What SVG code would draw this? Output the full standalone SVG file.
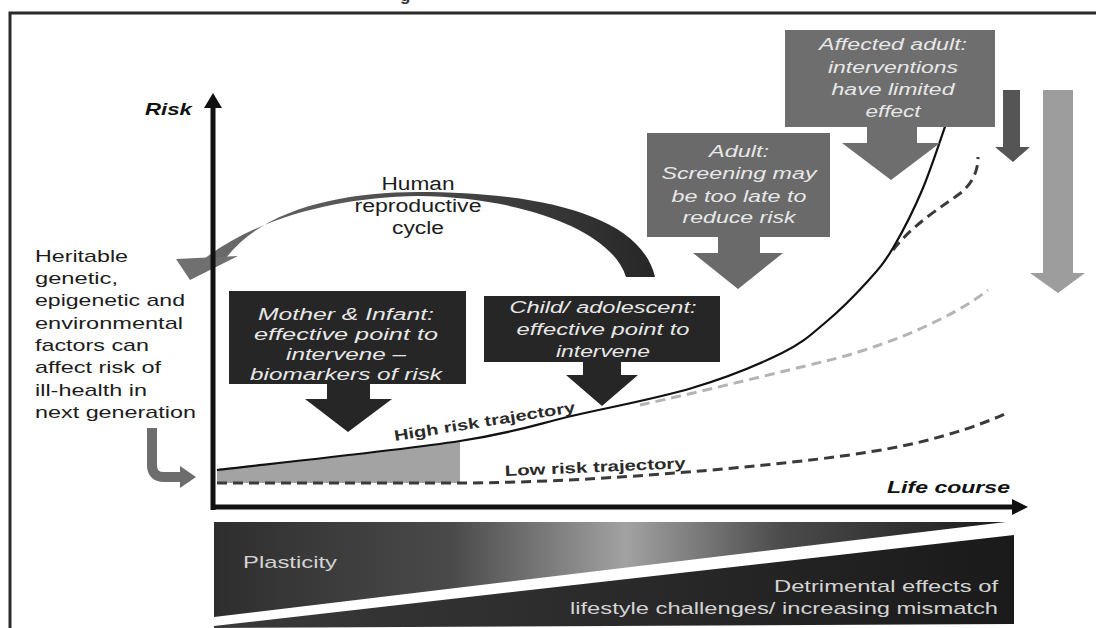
<svg xmlns="http://www.w3.org/2000/svg" width="1096" height="628" viewBox="0 0 1096 628">
<style>
  text { font-family: "Liberation Sans", Arial, sans-serif; }
  .lbl { font-size: 17px; fill: #1c1c1c; }
  .box { font-size: 16px; font-style: italic; fill: #e8e8e8; text-anchor: middle; }
  .ax { font-size: 17px; font-weight: bold; font-style: italic; fill: #111; }
  .traj { font-size: 15px; font-weight: bold; fill: #2a2a2a; }
  .band { font-size: 17px; fill: #d4d4d4; }
  .dash { fill: none; stroke-width: 3; stroke-dasharray: 10 6; }
</style>
<defs>
  <linearGradient id="cyc" x1="180" y1="0" x2="660" y2="0" gradientUnits="userSpaceOnUse">
    <stop offset="0" stop-color="#707070"/>
    <stop offset="0.5" stop-color="#4a4a4a"/>
    <stop offset="1" stop-color="#262626"/>
  </linearGradient>
  <linearGradient id="plas" x1="214" y1="0" x2="1006" y2="0" gradientUnits="userSpaceOnUse">
    <stop offset="0" stop-color="#2e2e2e"/>
    <stop offset="0.3" stop-color="#4a4a4a"/>
    <stop offset="0.52" stop-color="#a2a2a2"/>
    <stop offset="0.72" stop-color="#4a4a4a"/>
    <stop offset="1" stop-color="#1c1c1c"/>
  </linearGradient>
  <linearGradient id="detr" x1="214" y1="0" x2="1014" y2="0" gradientUnits="userSpaceOnUse">
    <stop offset="0" stop-color="#3a3a3a"/>
    <stop offset="1" stop-color="#1a1a1a"/>
  </linearGradient>
</defs>

<rect width="1096" height="628" fill="#ffffff"/>

<!-- frame -->
<g id="frame" stroke="#2a2a2a" stroke-width="3" fill="none">
  <path d="M 10,628 L 10,13 L 1096,13"/>
</g>
<text x="400" y="1" style="font-size:17px;font-weight:bold;fill:#333">g</text>

<!-- bottom band -->
<g id="band">
  <polygon points="214,522 1006,522 214,617" fill="url(#plas)"/>
  <polygon points="214,626 1014,535 1014,624 214,628" fill="url(#detr)"/>
  <text class="band" x="243" y="568" textLength="94" lengthAdjust="spacingAndGlyphs">Plasticity</text>
  <text class="band" x="998" y="592" text-anchor="end" textLength="224" lengthAdjust="spacingAndGlyphs">Detrimental effects of</text>
  <text class="band" x="998" y="614" text-anchor="end" textLength="428" lengthAdjust="spacingAndGlyphs">lifestyle challenges/ increasing mismatch</text>
</g>

<!-- shaded early-life region -->
<g id="shade">
  <path d="M 217,470 C 257.5,465.2 400.2,450.2 460,441 L 460,483 L 217,483 Z" fill="#a3a3a3"/>
</g>

<!-- connectors / trajectories -->
<g id="connectors">
  <path class="dash" stroke="#b4b4b4" d="M 640,405 C 700,392 780,372 826,361 C 880,348 950,320 988,290"/>
  <path class="dash" stroke="#3a3a3a" d="M 217,483 L 470,483 C 560,482 640,476 700,471 C 780,464 860,456 916,443 C 950,435 980,425 1005,414"/>
  <path class="dash" stroke="#3a3a3a" d="M 893,250 C 915,222 945,205 962,192 C 975,180 978,168 978,157"/>
  <path fill="none" stroke="#111" stroke-width="2.2" d="M 217,470 C 257.5,465.2 400.2,450.2 460,441 C 519.8,431.8 537.3,423.8 576,415 C 614.7,406.2 657.7,398.3 692,388 C 726.3,377.7 759.7,364 782,353 C 804.3,342 811.8,333.8 826,322 C 840.2,310.2 855.8,294.3 867,282 C 878.2,269.7 883.7,263.7 893,248 C 902.3,232.3 913.5,210.7 923,188 C 932.5,165.3 945.5,124.7 950,112"/>
  <!-- human reproductive cycle arc -->
  <path d="M 226,258 C 262,210 340,192 418,192 C 530,192 640,212 655,277 L 626,277 C 612,230 520,197 418,196 C 340,197 258,217 204,259 Z" fill="url(#cyc)"/>
  <polygon points="176,259 238,256 190,280" fill="#707070"/>
  <!-- bent heritable arrow -->
  <path d="M 152,428 L 152,465 Q 152,477 164,477 L 182,477" fill="none" stroke="#6d6d6d" stroke-width="10"/>
  <polygon points="180,466 196,477 180,488" fill="#6d6d6d"/>
  <!-- right side arrows -->
  <polygon points="1003,90 1020,90 1020,147 1030,147 1013,162 995,147 1003,147" fill="#555555"/>
  <polygon points="1043,90 1073,90 1073,273 1085,273 1058,293 1030,273 1043,273" fill="#9d9d9d"/>
</g>

<!-- axes -->
<g id="axes">
  <line x1="213" y1="105" x2="213" y2="510" stroke="#111" stroke-width="5"/>
  <polygon points="213,93 222,108 204,108" fill="#111"/>
  <line x1="211" y1="507" x2="1016" y2="507" stroke="#111" stroke-width="5"/>
  <polygon points="1028,507 1012,499 1012,515" fill="#111"/>
  <text class="ax" x="145" y="115" textLength="47" lengthAdjust="spacingAndGlyphs">Risk</text>
  <text class="ax" x="887" y="493" textLength="123" lengthAdjust="spacingAndGlyphs">Life course</text>
</g>

<!-- trajectory labels -->
<text class="traj" transform="translate(395,441) rotate(-9.1)" textLength="183" lengthAdjust="spacingAndGlyphs">High risk trajectory</text>
<text class="traj" transform="translate(505,476) rotate(-2.5)" textLength="181" lengthAdjust="spacingAndGlyphs">Low risk trajectory</text>

<!-- heritable label -->
<g id="heritable">
  <text class="lbl" x="35" y="262" textLength="93" lengthAdjust="spacingAndGlyphs">Heritable</text>
  <text class="lbl" x="35" y="284" textLength="83" lengthAdjust="spacingAndGlyphs">genetic,</text>
  <text class="lbl" x="35" y="306" textLength="150" lengthAdjust="spacingAndGlyphs">epigenetic and</text>
  <text class="lbl" x="35" y="329" textLength="148" lengthAdjust="spacingAndGlyphs">environmental</text>
  <text class="lbl" x="35" y="351" textLength="114" lengthAdjust="spacingAndGlyphs">factors can</text>
  <text class="lbl" x="35" y="373" textLength="126" lengthAdjust="spacingAndGlyphs">affect risk of</text>
  <text class="lbl" x="35" y="396" textLength="112" lengthAdjust="spacingAndGlyphs">ill-health in</text>
  <text class="lbl" x="35" y="418" textLength="161" lengthAdjust="spacingAndGlyphs">next generation</text>
</g>

<!-- cycle label -->
<g id="cycle">
  <text class="lbl" x="418" y="190" text-anchor="middle" style="font-size:18px" textLength="73" lengthAdjust="spacingAndGlyphs">Human</text>
  <text class="lbl" x="418" y="212" text-anchor="middle" style="font-size:18px" textLength="127" lengthAdjust="spacingAndGlyphs">reproductive</text>
  <text class="lbl" x="418" y="234" text-anchor="middle" style="font-size:18px" textLength="52" lengthAdjust="spacingAndGlyphs">cycle</text>
</g>

<!-- Mother & Infant -->
<g id="mother">
  <rect x="229" y="291" width="237" height="93" fill="#262626"/>
  <polygon points="327,383 370,383 370,399 392,399 348,432 305,399 327,399" fill="#262626"/>
  <text class="box" x="346" y="320" textLength="176" lengthAdjust="spacingAndGlyphs">Mother &amp; Infant:</text>
  <text class="box" x="346" y="340" textLength="184" lengthAdjust="spacingAndGlyphs">effective point to</text>
  <text class="box" x="346" y="360" textLength="120" lengthAdjust="spacingAndGlyphs">intervene –</text>
  <text class="box" x="346" y="380" textLength="192" lengthAdjust="spacingAndGlyphs">biomarkers of risk</text>
</g>

<!-- Child / adolescent -->
<g id="child">
  <rect x="484" y="296" width="236" height="66" fill="#262626"/>
  <polygon points="583,361 621,361 621,375 638,375 602,406 566,375 583,375" fill="#262626"/>
  <text class="box" x="603" y="313" textLength="187" lengthAdjust="spacingAndGlyphs">Child/ adolescent:</text>
  <text class="box" x="603" y="335" textLength="173" lengthAdjust="spacingAndGlyphs">effective point to</text>
  <text class="box" x="603" y="357" textLength="94" lengthAdjust="spacingAndGlyphs">intervene</text>
</g>

<!-- Adult -->
<g id="adult">
  <rect x="647" y="133" width="183" height="104" fill="#6a6a6a"/>
  <polygon points="718,236 760,236 760,253 783,253 738,289 693,253 718,253" fill="#6a6a6a"/>
  <text class="box" x="739" y="157" textLength="60" lengthAdjust="spacingAndGlyphs">Adult:</text>
  <text class="box" x="739" y="179" textLength="155" lengthAdjust="spacingAndGlyphs">Screening may</text>
  <text class="box" x="739" y="202" textLength="135" lengthAdjust="spacingAndGlyphs">be too late to</text>
  <text class="box" x="739" y="223" textLength="113" lengthAdjust="spacingAndGlyphs">reduce risk</text>
</g>

<!-- Affected adult -->
<g id="affected">
  <rect x="785" y="30" width="210" height="97" fill="#6e6e6e"/>
  <polygon points="867,126 917,126 917,143 940,143 891,180 842,143 867,143" fill="#6e6e6e"/>
  <text class="box" x="893" y="50" textLength="148" lengthAdjust="spacingAndGlyphs">Affected adult:</text>
  <text class="box" x="893" y="73" textLength="130" lengthAdjust="spacingAndGlyphs">interventions</text>
  <text class="box" x="893" y="95" textLength="123" lengthAdjust="spacingAndGlyphs">have limited</text>
  <text class="box" x="893" y="117" textLength="55" lengthAdjust="spacingAndGlyphs">effect</text>
</g>
</svg>
